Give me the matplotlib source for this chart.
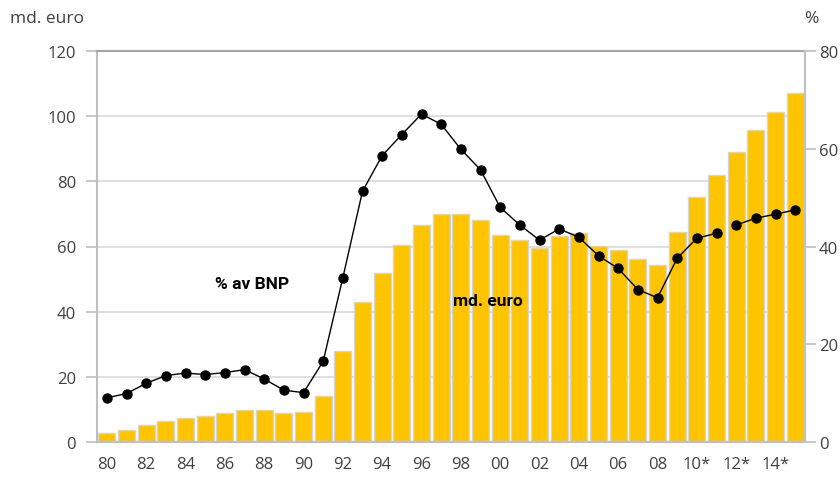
import matplotlib
matplotlib.use('Agg')

import numpy as np
import matplotlib.pyplot as plt
from matplotlib import font_manager

# Years 1980-2015
years = list(range(1980, 2016))
tick_labels = ['80', '82', '84', '86', '88', '90', '92', '94', '96', '98',
               '00', '02', '04', '06', '08', '10*', '12*', '14*']

# md. euro (left axis, bars)
md_euro = [2.9, 3.7, 5.1, 6.4, 7.5, 8.0, 8.8, 9.8, 9.7, 9.0,
           9.2, 14.1, 27.9, 43.1, 51.8, 60.5, 66.6, 70.0, 70.0, 68.1,
           63.5, 62.0, 59.4, 63.3, 64.0, 60.3, 59.0, 56.2, 54.4, 64.5,
           75.2, 81.9, 88.9, 95.7, 101.3, 107.0]

# % av BNP (right axis, line)
pct_bnp = [9.05, 9.9, 12.0, 13.6, 14.1, 13.8, 14.2, 14.8, 12.9, 10.6,
           10.1, 16.5, 33.6, 51.3, 58.6, 62.9, 67.1, 65.0, 59.9, 55.7,
           48.0, 44.4, 41.3, 43.6, 41.9, 38.1, 35.5, 31.2, 29.5, 37.6,
           41.7, 42.7, 44.4, 45.8, 46.6, 47.5]

font = 'Open Sans'
tick_color = '#404040'
axis_gray = '#bfbfbf'

# narrow bold font for the in-chart labels, if one is around
narrow = 'Roboto'
for cand in ['Liberation Sans Narrow', 'DejaVu Sans Condensed']:
  try:
    font_manager.findfont(font_manager.FontProperties(family=cand),
                          fallback_to_default=False)
    narrow = cand
    break
  except ValueError:
    pass

fig = plt.figure(figsize=(8.4, 4.81), dpi=100)
ax1 = fig.add_axes([97 / 840, 38 / 481, 708 / 840, 391 / 481])

x = np.arange(len(years))
ax1.bar(x, md_euro, width=0.88, color='#FFC400', edgecolor='#d4d4d4',
        linewidth=1.0, zorder=2)
ax1.set_xlim(-0.5, len(years) - 0.5)
ax1.set_ylim(0, 120)
ax1.set_yticks(np.arange(0, 121, 20))
ax1.set_xticks(x[::2])
ax1.set_xticklabels(tick_labels)

ax1.set_axisbelow(True)
ax1.yaxis.grid(True, color='#d9d9d9', linewidth=1.2)
ax1.xaxis.grid(False)

for side in ['left', 'bottom']:
  ax1.spines[side].set_color(axis_gray)
  ax1.spines[side].set_linewidth(1.5)
ax1.spines['right'].set_visible(False)
ax1.spines['top'].set_color('#a6a6a6')
ax1.spines['top'].set_linewidth(1.5)

ax1.tick_params(axis='y', length=8, width=1.2, color=axis_gray,
                labelsize=12, labelcolor=tick_color, pad=7)
ax1.tick_params(axis='x', length=0, labelsize=12, labelcolor=tick_color, pad=10)

ax2 = ax1.twinx()
ax2.set_ylim(0, 80)
ax2.set_yticks(np.arange(0, 81, 20))
ax2.spines['right'].set_color(axis_gray)
ax2.spines['right'].set_linewidth(1.5)
for side in ['left', 'top', 'bottom']:
  ax2.spines[side].set_visible(False)
ax2.tick_params(axis='y', length=8, width=1.2, color=axis_gray,
                labelsize=12, labelcolor=tick_color, pad=2)

# line has a break between 2011 and 2012
split = years.index(2012)
for seg in [slice(0, split), slice(split, len(years))]:
  ax2.plot(x[seg], pct_bnp[seg], color='black', linewidth=1.0,
           marker='o', markersize=6.5, zorder=3)

for lbl in ax1.get_xticklabels() + ax1.get_yticklabels() + ax2.get_yticklabels():
  lbl.set_fontfamily(font)

fig.text(10 / 840, 1 - 19 / 481, 'md. euro', fontsize=12.5, color=tick_color,
         family=font, va='center', ha='left')
fig.text(804 / 840, 1 - 19 / 481, '%', fontsize=12.5, color=tick_color,
         family=font, va='center', ha='left')

ax1.text(7.4, 48.5, '% av BNP', fontsize=12.5, fontweight='bold',
         family=narrow, ha='center', va='center')
ax1.text(19.4, 43.5, 'md. euro', fontsize=12.5, fontweight='bold',
         family=narrow, ha='center', va='center')

plt.savefig('out.png', dpi=100)
